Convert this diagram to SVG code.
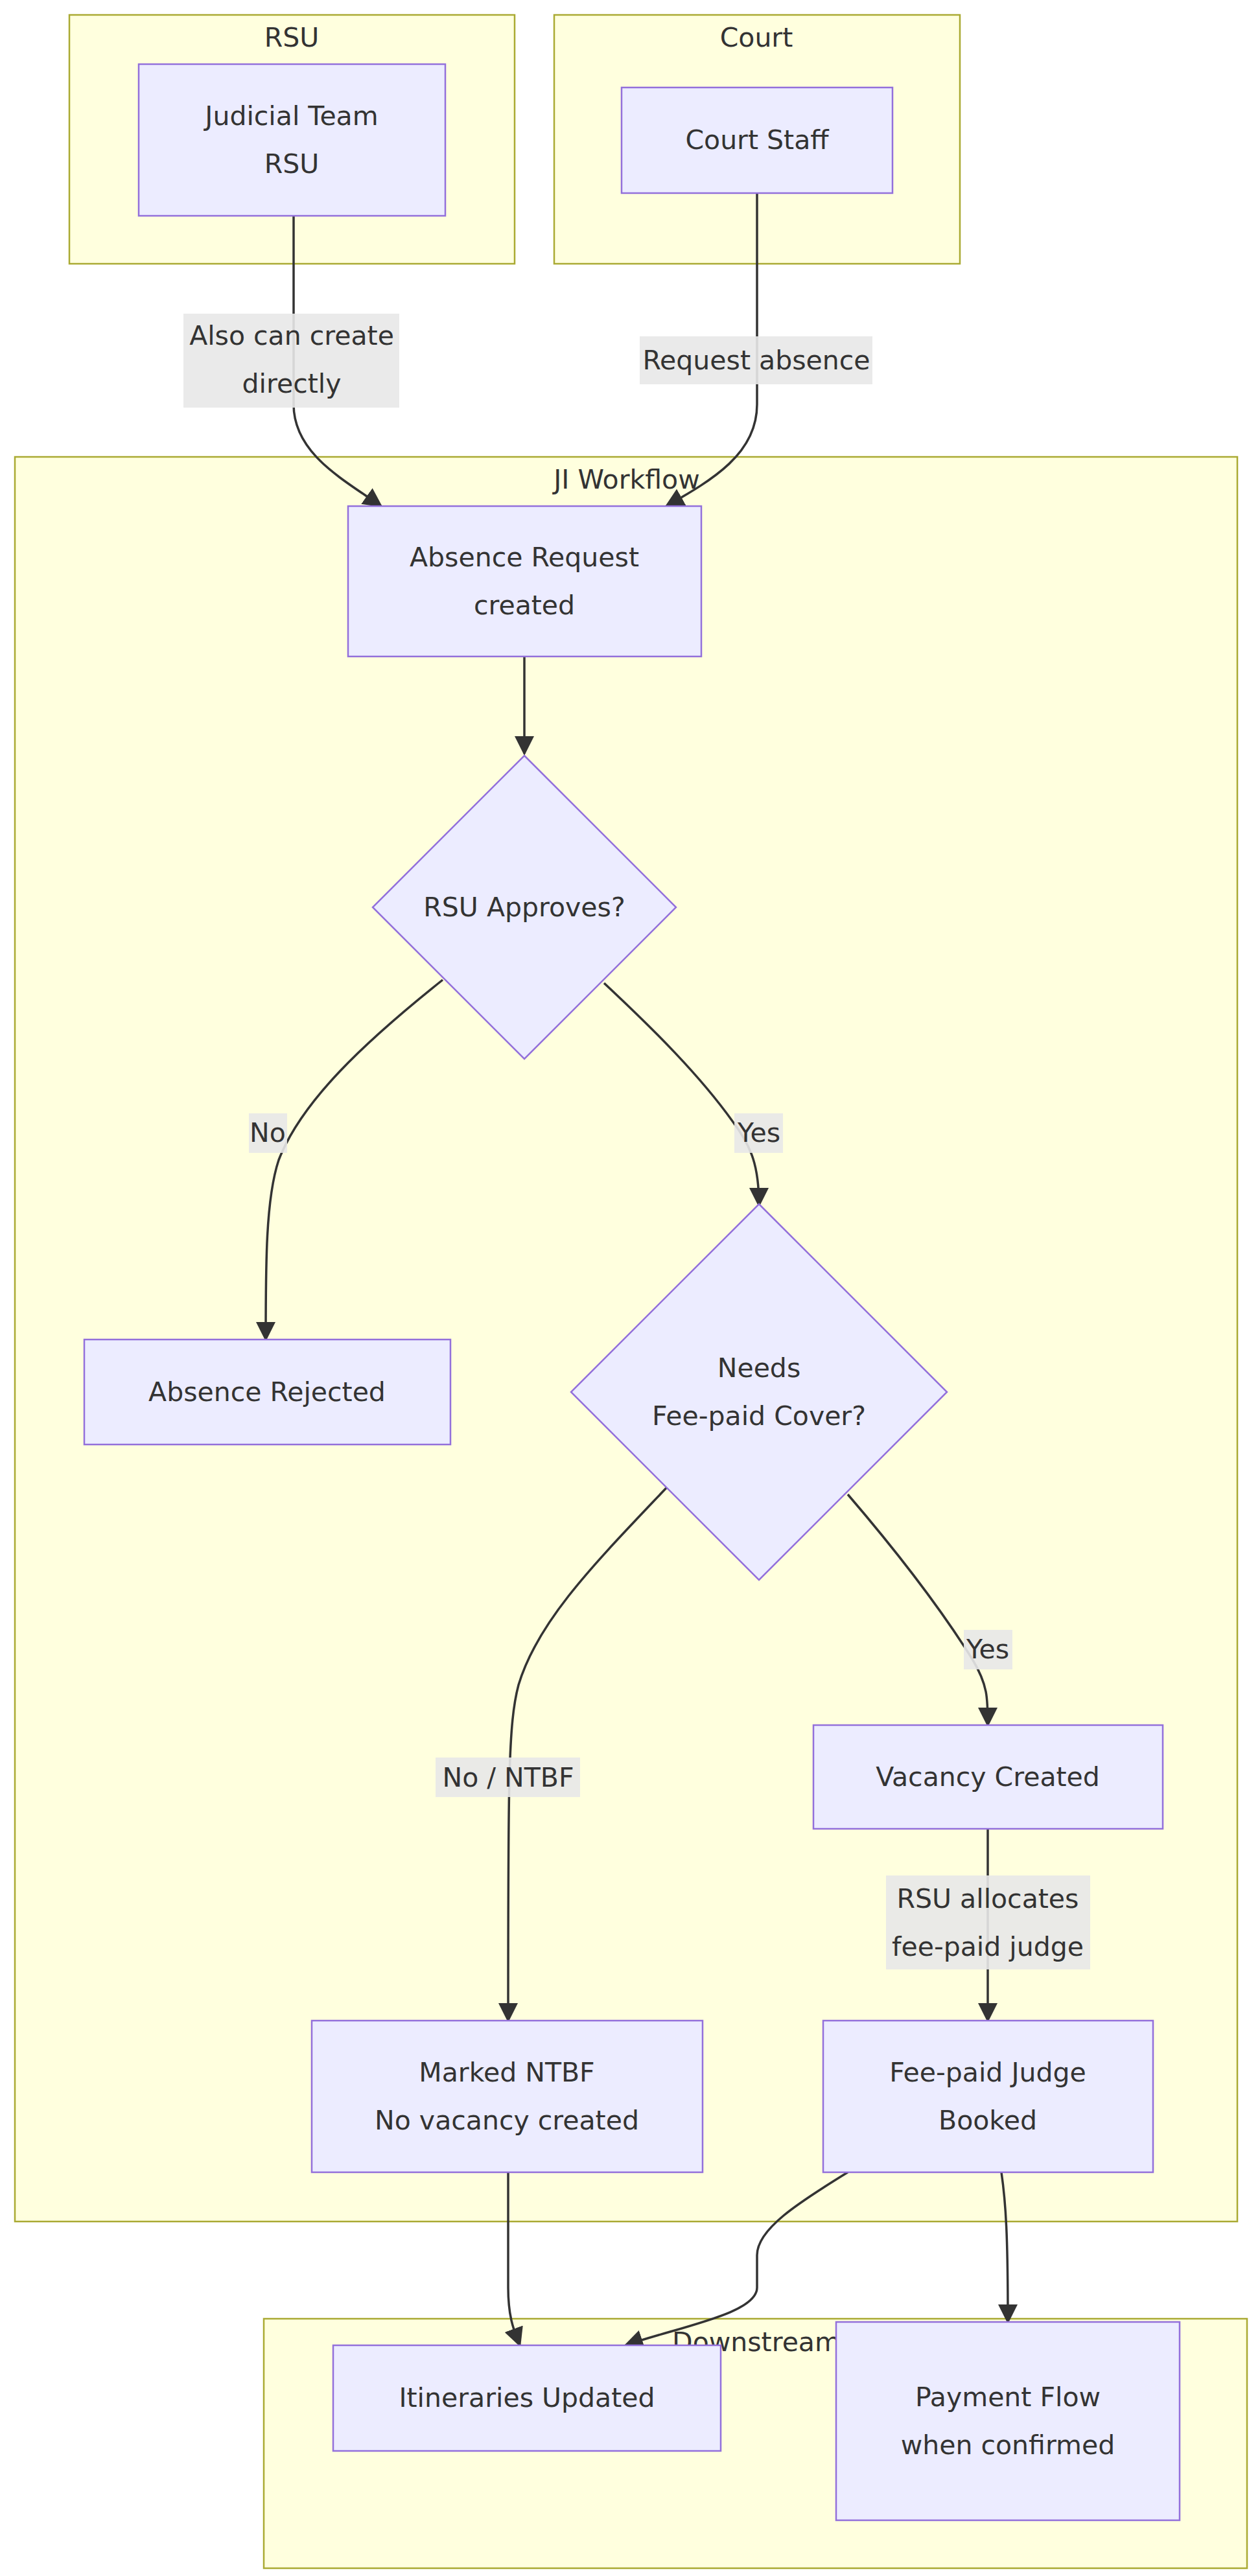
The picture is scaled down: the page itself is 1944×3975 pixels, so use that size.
<svg xmlns="http://www.w3.org/2000/svg" width="1944" height="3975" viewBox="0 0 1944 3975">
<style>
.cl{fill:#ffffde;stroke:#aaaa33;stroke-width:2.5}
.nd{fill:#ececff;stroke:#9370db;stroke-width:2.5}
.t{font-family:"DejaVu Sans","Liberation Sans",sans-serif;font-size:41px;fill:#333;text-anchor:middle;dominant-baseline:central}
.e{fill:none;stroke:#333;stroke-width:3.5}
.lb{fill:#e8e8e8;opacity:0.9}
</style>
<defs><marker id="a" markerUnits="userSpaceOnUse" markerWidth="30" markerHeight="30" viewBox="0 0 10 10" refX="9" refY="5" orient="auto"><path d="M0,0L10,5L0,10z" fill="#333"/></marker></defs>
<rect width="1944" height="3975" fill="#fff"/>
<g id="cluster-RSU"><rect class="cl" x="107" y="23" width="687" height="384"/><text class="t" x="450" y="58">RSU</text></g>
<g id="cluster-Court"><rect class="cl" x="855" y="23" width="626" height="384"/><text class="t" x="1167" y="58">Court</text></g>
<g id="cluster-JI"><rect class="cl" x="23" y="705" width="1886" height="2723"/><text class="t" x="967" y="740">JI Workflow</text></g>
<g id="cluster-Downstream"><rect class="cl" x="407" y="3578" width="1517" height="385"/><text class="t" x="1167" y="3614">Downstream</text></g>
<g id="edges">
<path class="e" marker-end="url(#a)" d="M453,333 L453,624 C453,700 530,740 588,781"/>
<path class="e" marker-end="url(#a)" d="M1168,298 L1168,624 C1168,700 1100,740 1028,781"/>
<path class="e" marker-end="url(#a)" d="M809,1013 L809,1163"/>
<path class="e" marker-end="url(#a)" d="M683,1512 C560,1610 465,1700 430,1790 C410,1850 410,1950 410,2067"/>
<path class="e" marker-end="url(#a)" d="M932,1517 C1010,1590 1080,1660 1130,1730 C1160,1770 1171,1800 1171,1860"/>
<path class="e" marker-end="url(#a)" d="M1028,2296 C920,2410 830,2500 800,2600 C784,2660 784,2750 784,3118"/>
<path class="e" marker-end="url(#a)" d="M1308,2306 C1380,2390 1450,2480 1500,2560 C1524,2600 1524,2620 1524,2662"/>
<path class="e" marker-end="url(#a)" d="M1524,2822 L1524,3118"/>
<path class="e" marker-end="url(#a)" d="M784,3352 L784,3530 C784,3580 795,3600 802,3619"/>
<path class="e" marker-end="url(#a)" d="M1308,3352 C1230,3400 1168,3440 1168,3480 L1168,3530 C1168,3570 1050,3590 965,3619"/>
<path class="e" marker-end="url(#a)" d="M1545,3352 C1552,3400 1555,3450 1555,3583"/>
<rect class="lb" x="283" y="484" width="333" height="145"/><text class="t" x="450" y="518">Also can create</text><text class="t" x="450" y="592">directly</text>
<rect class="lb" x="987" y="519" width="359" height="74"/><text class="t" x="1167" y="556">Request absence</text>
<rect class="lb" x="384" y="1718" width="59" height="61"/><text class="t" x="413" y="1748">No</text>
<rect class="lb" x="1133" y="1718" width="75" height="61"/><text class="t" x="1171" y="1748">Yes</text>
<rect class="lb" x="672" y="2712" width="223" height="61"/><text class="t" x="784" y="2743">No / NTBF</text>
<rect class="lb" x="1487" y="2515" width="75" height="61"/><text class="t" x="1524" y="2545">Yes</text>
<rect class="lb" x="1367" y="2894" width="315" height="145"/><text class="t" x="1524" y="2930">RSU allocates</text><text class="t" x="1524" y="3004">fee-paid judge</text>
</g>
<g id="n-judicial"><rect class="nd" x="214" y="99" width="473" height="234"/><text class="t" x="450" y="179">Judicial Team</text><text class="t" x="450" y="253">RSU</text></g>
<g id="n-court"><rect class="nd" x="959" y="135" width="418" height="163"/><text class="t" x="1168" y="216">Court Staff</text></g>
<g id="n-request"><rect class="nd" x="537" y="781" width="545" height="232"/><text class="t" x="809" y="860">Absence Request</text><text class="t" x="809" y="934">created</text></g>
<g id="n-approve"><polygon class="nd" points="809,1166 1043,1400 809,1634 575,1400"/><text class="t" x="809" y="1400">RSU Approves?</text></g>
<g id="n-rejected"><rect class="nd" x="130" y="2067" width="565" height="162"/><text class="t" x="412" y="2148">Absence Rejected</text></g>
<g id="n-needs"><polygon class="nd" points="1171,1858 1461,2148 1171,2438 881,2148"/><text class="t" x="1171" y="2111">Needs</text><text class="t" x="1171" y="2185">Fee-paid Cover?</text></g>
<g id="n-vacancy"><rect class="nd" x="1255" y="2662" width="539" height="160"/><text class="t" x="1524" y="2742">Vacancy Created</text></g>
<g id="n-ntbf"><rect class="nd" x="481" y="3118" width="603" height="234"/><text class="t" x="782" y="3198">Marked NTBF</text><text class="t" x="782" y="3272">No vacancy created</text></g>
<g id="n-judge"><rect class="nd" x="1270" y="3118" width="509" height="234"/><text class="t" x="1524" y="3198">Fee-paid Judge</text><text class="t" x="1524" y="3272">Booked</text></g>
<g id="n-itin"><rect class="nd" x="514" y="3619" width="598" height="163"/><text class="t" x="813" y="3700">Itineraries Updated</text></g>
<g id="n-pay"><rect class="nd" x="1290" y="3583" width="530" height="306"/><text class="t" x="1555" y="3699">Payment Flow</text><text class="t" x="1555" y="3773">when confirmed</text></g>
</svg>
